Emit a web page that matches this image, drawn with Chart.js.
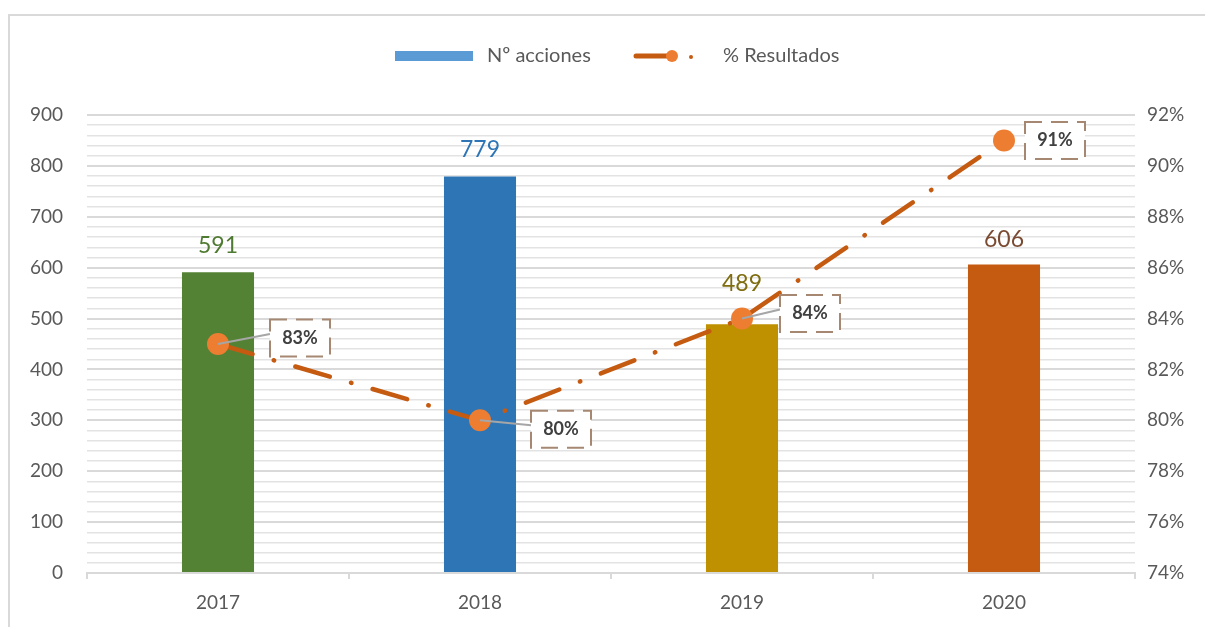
<!DOCTYPE html>
<html>
<head>
<meta charset="utf-8">
<script src="https://cdn.jsdelivr.net/npm/chart.js@4.4.1/dist/chart.umd.min.js"></script>
<style>
  html, body { margin: 0; padding: 0; background: #ffffff; }
  #wrap { position: relative; width: 1205px; height: 627px; }
</style>
</head>
<body>
<div id="wrap"><canvas id="c"></canvas></div>
<script>
// ---- data ----
const categories = ['2017', '2018', '2019', '2020'];
const acciones = [591, 779, 489, 606];
const resultados = [83, 80, 84, 91];
const seriesNames = ['Nº acciones', '% Resultados'];
const leftAxisMin = 0, leftAxisMax = 900, leftMajorStep = 100, leftMinorStep = 20;
const rightAxisMin = 74, rightAxisMax = 92, rightStep = 2;

// ---- styles ----
const barColors = ['#548235', '#2e75b6', '#bf9000', '#c55a11'];
const barLabelColors = ['#4f7a32', '#2e75b6', '#7f6d10', '#7a4a32'];
const barLabelLift = [27, 27, 41, 25];
const pctLabelOffsets = [[82, -6, true], [81, 9, true], [68, -5, true], [51, 0, false]];
const FONT = 'Lato, "Open Sans", sans-serif';
const TEXT = '#595959';

const framePlugin = {
  id: 'frame',
  beforeDraw(chart) {
    const ctx = chart.ctx;
    ctx.save();
    ctx.strokeStyle = '#d9d9d9';
    ctx.lineWidth = 2;
    ctx.beginPath();
    ctx.moveTo(9, 627);
    ctx.lineTo(9, 15);
    ctx.lineTo(1205, 15);
    ctx.stroke();
    ctx.restore();
  }
};

const legendPlugin = {
  id: 'customLegend',
  afterDraw(chart) {
    const ctx = chart.ctx;
    const y = 56;
    ctx.save();
    ctx.fillStyle = '#5b9bd5';
    ctx.fillRect(395, 51, 78, 10);
    ctx.font = '20px ' + FONT;
    ctx.fillStyle = TEXT;
    ctx.textBaseline = 'middle';
    ctx.textAlign = 'left';
    ctx.fillText(chart.data.datasets[1].label, 487, y);
    ctx.strokeStyle = '#c55a11';
    ctx.lineWidth = 5;
    ctx.lineCap = 'round';
    ctx.beginPath();
    ctx.moveTo(636, y);
    ctx.lineTo(668, y);
    ctx.stroke();
    ctx.fillStyle = '#ed7d31';
    ctx.beginPath(); ctx.arc(672, y, 6, 0, Math.PI * 2); ctx.fill();
    ctx.fillStyle = '#c55a11';
    ctx.beginPath(); ctx.arc(691, y + 1, 2, 0, Math.PI * 2); ctx.fill();
    ctx.fillStyle = TEXT;
    ctx.fillText(chart.data.datasets[0].label, 723, y);
    ctx.restore();
  }
};

const labelsPlugin = {
  id: 'valueLabels',
  afterDatasetsDraw(chart) {
    const ctx = chart.ctx;
    const barMeta = chart.getDatasetMeta(1);
    const lineMeta = chart.getDatasetMeta(0);
    ctx.save();
    // bar value labels
    ctx.font = '23px ' + FONT;
    ctx.textAlign = 'center';
    ctx.textBaseline = 'middle';
    barMeta.data.forEach((bar, i) => {
      ctx.fillStyle = barLabelColors[i];
      ctx.fillText(String(acciones[i]), bar.x, bar.y - barLabelLift[i]);
    });
    // percent labels
    lineMeta.data.forEach((pt, i) => {
      const [dx, dy, leader] = pctLabelOffsets[i];
      const cx = pt.x + dx, cy = pt.y + dy;
      const w = 60, h = 37;
      if (leader) {
        ctx.strokeStyle = '#a6a6a6';
        ctx.lineWidth = 2;
        ctx.setLineDash([]);
        ctx.beginPath();
        ctx.moveTo(pt.x, pt.y);
        ctx.lineTo(cx - w / 2, cy - 4);
        ctx.stroke();
      }
      ctx.fillStyle = '#ffffff';
      ctx.fillRect(cx - w / 2, cy - h / 2, w, h);
      ctx.strokeStyle = '#a68872';
      ctx.lineWidth = 2;
      ctx.setLineDash([17, 9]);
      ctx.strokeRect(cx - w / 2, cy - h / 2, w, h);
      ctx.setLineDash([]);
      ctx.fillStyle = '#404040';
      ctx.font = 'bold 18px ' + FONT;
      ctx.textAlign = 'center';
      ctx.textBaseline = 'middle';
      ctx.fillText(resultados[i] + '%', cx, cy);
    });
    ctx.restore();
  }
};

new Chart(document.getElementById('c'), {
  data: {
    labels: categories,
    datasets: [
      {
        type: 'line',
        label: seriesNames[1],
        data: resultados,
        yAxisID: 'y1',
        borderColor: '#c55a11',
        borderWidth: 4.5,
        borderDash: [36, 22, 0.5, 22],
        borderCapStyle: 'round',
        pointRadius: 11,
        pointHoverRadius: 11,
        pointBackgroundColor: '#ed7d31',
        pointBorderColor: '#ed7d31',
        pointBorderWidth: 0,
        tension: 0,
        order: 0
      },
      {
        type: 'bar',
        label: seriesNames[0],
        data: acciones,
        yAxisID: 'y',
        backgroundColor: barColors,
        borderWidth: 0,
        categoryPercentage: 1,
        barPercentage: 0.275,
        order: 1
      }
    ]
  },
  options: {
    responsive: true,
    maintainAspectRatio: false,
    animation: false,
    layout: { padding: { top: 115, left: 0, right: 0, bottom: 0 } },
    plugins: {
      legend: { display: false },
      tooltip: { enabled: false }
    },
    scales: {
      x: {
        grid: { display: true, drawOnChartArea: false, drawTicks: true, tickLength: 6, color: '#d9d9d9', lineWidth: 2, offset: true },
        border: { display: true, color: '#d9d9d9', width: 2 },
        ticks: { color: TEXT, font: { family: FONT, size: 19 }, padding: 12 },
        afterFit(s) { s.height = 54; }
      },
      y: {
        position: 'left',
        min: leftAxisMin,
        max: leftAxisMax,
        grid: {
          drawTicks: false,
          color: (c) => (c.tick && c.tick.value % leftMajorStep === 0) ? '#d9d9d9' : '#e3e3e3',
          lineWidth: (c) => (c.tick && c.tick.value % leftMajorStep === 0) ? 2 : 1.5
        },
        border: { display: false },
        ticks: {
          stepSize: leftMinorStep,
          maxTicksLimit: 100,
          autoSkip: false,
          color: TEXT,
          font: { family: FONT, size: 19 },
          padding: 24,
          callback: (v) => (v % leftMajorStep === 0 ? String(v) : '')
        },
        afterFit(s) { s.width = 87; }
      },
      y1: {
        position: 'right',
        min: rightAxisMin,
        max: rightAxisMax,
        grid: { display: false, drawTicks: false },
        border: { display: false },
        ticks: {
          stepSize: rightStep,
          color: TEXT,
          font: { family: FONT, size: 19 },
          padding: 12,
          callback: (v) => v + '%'
        },
        afterFit(s) { s.width = 70; }
      }
    }
  },
  plugins: [framePlugin, legendPlugin, labelsPlugin]
});
</script>
</body>
</html>
